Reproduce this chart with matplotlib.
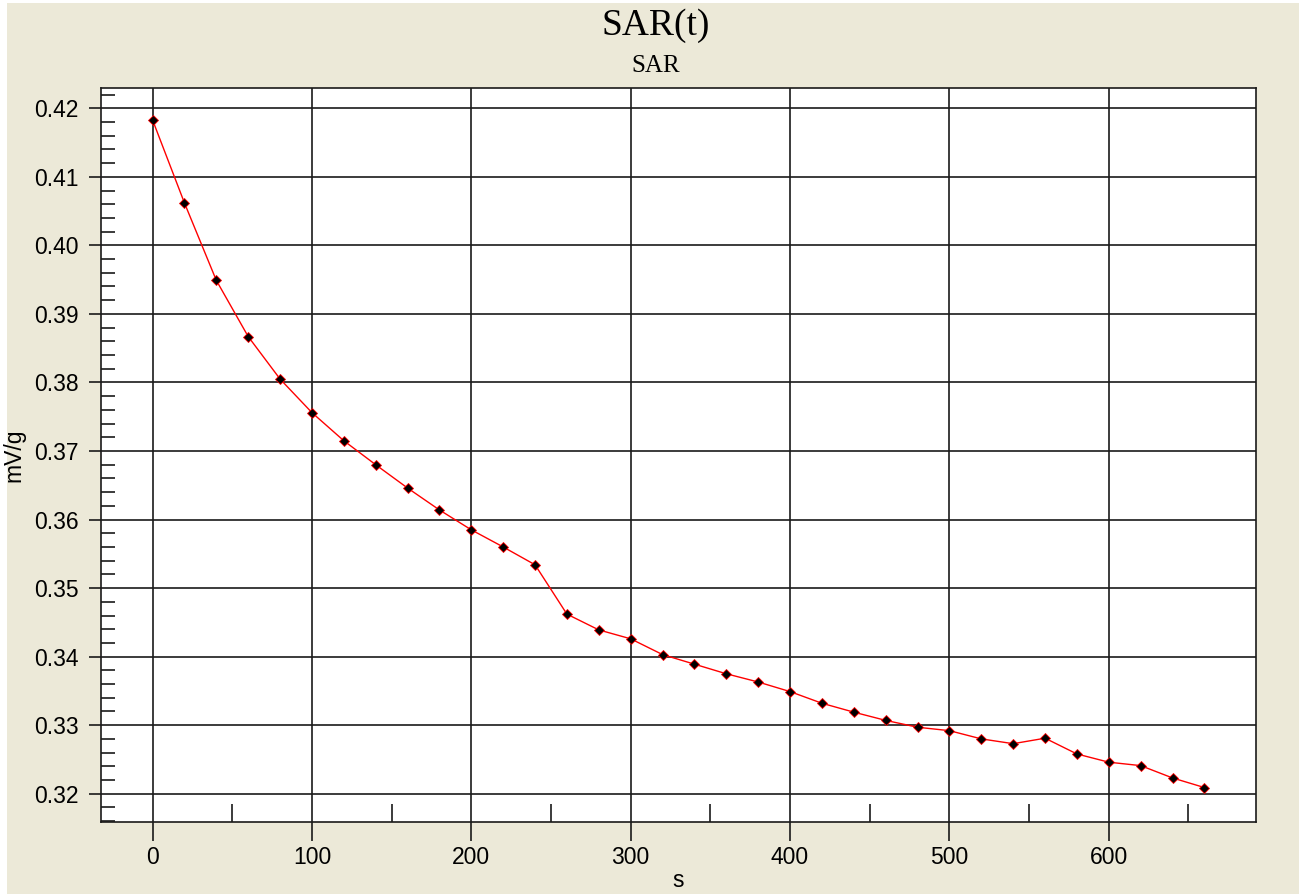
import matplotlib.pyplot as plt
from matplotlib.ticker import MultipleLocator
from matplotlib.patches import Rectangle

# data
t = [0, 20, 40, 60, 80, 100, 120, 140, 160, 180, 200, 220, 240, 260, 280, 300,
     320, 340, 360, 380, 400, 420, 440, 460, 480, 500, 520, 540, 560, 580, 600,
     620, 640, 660]
sar = [0.4183, 0.4062, 0.3949, 0.3867, 0.3805, 0.3756, 0.3715, 0.3680,
       0.3646, 0.3614, 0.3585, 0.3560, 0.3534, 0.3462, 0.3439, 0.3426,
       0.3403, 0.3389, 0.3375, 0.3363, 0.3349, 0.3332, 0.3319, 0.3307,
       0.3297, 0.3292, 0.3280, 0.3273, 0.3281, 0.3258, 0.3246, 0.3241,
       0.3223, 0.3209]

bg = '#ECE9D8'
fig = plt.figure(figsize=(12.99, 8.94), dpi=100)
fig.patch.set_facecolor('white')
# beige panel, leaving a thin white strip on the left and top
fig.patches.append(Rectangle((7 / 1299, -0.01), 1.02, 1 - 3 / 894 + 0.01,
                             transform=fig.transFigure, facecolor=bg,
                             edgecolor='none', zorder=-1))

ax = fig.add_axes([0.0778, 0.0805, 0.9667 - 0.0778, 0.9016 - 0.0805])
ax.set_facecolor('white')

ax.plot(t, sar, color='red', linewidth=1.0, marker='D', markersize=5,
        markerfacecolor='black', markeredgecolor='red', markeredgewidth=0.6,
        zorder=3)

ax.set_xlim(-32.3, 692.2)
ax.set_ylim(0.31587, 0.42296)

ax.xaxis.set_major_locator(MultipleLocator(100))
ax.xaxis.set_minor_locator(MultipleLocator(50))
ax.yaxis.set_major_locator(MultipleLocator(0.01))
ax.yaxis.set_minor_locator(MultipleLocator(0.002))
ax.yaxis.set_major_formatter(plt.FuncFormatter(lambda v, p: f'{v:.2f}'))

ax.grid(True, which='major', color='#1a1a1a', linewidth=1.2)
ax.tick_params(axis='both', which='major', direction='out', length=9,
               width=1.2, labelsize=16.5, color='#1a1a1a')
ax.tick_params(axis='y', which='major', pad=7)
ax.tick_params(axis='x', which='major', length=14, pad=3)
ax.tick_params(axis='both', which='minor', direction='in', width=1.2,
               color='#1a1a1a')
ax.tick_params(axis='x', which='minor', length=13)
ax.tick_params(axis='y', which='minor', length=10)
for lab in ax.get_xticklabels() + ax.get_yticklabels():
    lab.set_fontfamily('Liberation Sans')

for s in ax.spines.values():
    s.set_color('#1a1a1a')
    s.set_linewidth(1.2)

ax.set_xlabel('s', fontsize=16.5, family='Liberation Sans', labelpad=0)
ax.set_ylabel('mV/g', fontsize=16.5, family='Liberation Sans', labelpad=6)

fig.text(0.505, 1 - 35 / 894, 'SAR(t)', ha='center', va='baseline',
         fontsize=27, family='Liberation Serif')
fig.text(0.505, 1 - 72 / 894, 'SAR', ha='center', va='baseline',
         fontsize=18, family='Liberation Serif')

fig.savefig('out.png', dpi=100, facecolor=fig.get_facecolor())
